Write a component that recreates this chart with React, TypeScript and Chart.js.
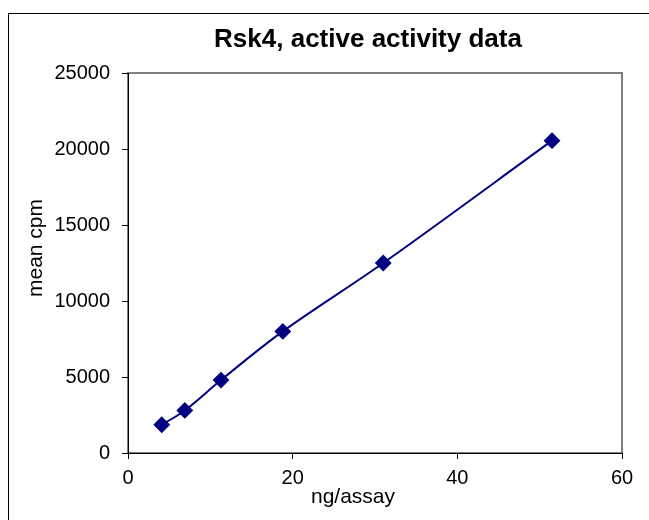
import React, { useEffect, useRef } from "react";
import { Chart, registerables } from "chart.js";

Chart.register(...registerables);

const chartTitle = "Rsk4, active activity data";
const xAxisTitle = "ng/assay";
const yAxisTitle = "mean cpm";
const ngPerAssay = [4.1, 6.9, 11.3, 18.8, 31.0, 51.5];
const meanCpm = [1860, 2800, 4800, 8000, 12500, 20550];
const xTickStep = 20;
const yTickStep = 5000;

const FONT = '"Liberation Sans", Arial, sans-serif';

const overlay = {
  id: "overlay",
  beforeDraw(chart: any) {
    const { ctx, chartArea } = chart;
    ctx.save();
    ctx.strokeStyle = "#808080";
    ctx.lineWidth = 2;
    ctx.strokeRect(chartArea.left, chartArea.top, chartArea.right - chartArea.left, chartArea.bottom - chartArea.top);
    ctx.restore();
  },
  afterDraw(chart: any) {
    const { ctx } = chart;
    ctx.save();
    ctx.fillStyle = "#000";
    ctx.textAlign = "center";
    ctx.textBaseline = "middle";
    ctx.font = `bold 26px ${FONT}`;
    ctx.fillText(chartTitle, 368, 40);
    ctx.font = `21px ${FONT}`;
    ctx.fillText(xAxisTitle, 353, 497);
    ctx.translate(36, 248);
    ctx.rotate(-Math.PI / 2);
    ctx.fillText(yAxisTitle, 0, 0);
    ctx.restore();
  },
};

export default function App() {
  const ref = useRef<HTMLCanvasElement | null>(null);
  useEffect(() => {
    if (!ref.current) return;
    Chart.defaults.font.family = FONT;
    const chart = new Chart(ref.current, {
      type: "scatter",
      data: {
        datasets: [
          {
            data: ngPerAssay.map((x, i) => ({ x, y: meanCpm[i] })),
            showLine: true,
            borderColor: "#000080",
            backgroundColor: "#000080",
            borderWidth: 2,
            pointStyle: "rectRot",
            pointRadius: 7,
            pointHoverRadius: 7,
            tension: 0.35,
          },
        ],
      },
      options: {
        animation: false,
        responsive: false,
        devicePixelRatio: 1,
        layout: { padding: { left: 0, right: 27, top: 73, bottom: 0 } },
        plugins: { legend: { display: false }, tooltip: { enabled: false }, title: { display: false } },
        scales: {
          x: {
            type: "linear",
            min: 0,
            max: 60,
            ticks: { stepSize: xTickStep, color: "#000", font: { size: 20 }, padding: 7, callback: (v: any) => String(v) },
            grid: { drawOnChartArea: false, tickLength: 6, color: "#000" },
            border: { color: "#000", width: 1 },
            afterFit: (s: any) => { s.height = 67; },
          },
          y: {
            type: "linear",
            min: 0,
            max: 25000,
            ticks: { stepSize: yTickStep, color: "#000", font: { size: 20 }, padding: 12, callback: (v: any) => String(v) },
            grid: { drawOnChartArea: false, tickLength: 6, color: "#000" },
            border: { color: "#000", width: 1 },
            afterFit: (s: any) => { s.width = 128; },
          },
        },
      },
      plugins: [overlay],
    });
    return () => chart.destroy();
  }, []);
  return (
    <div style={{ position: "absolute", left: 0, top: 0, width: 649, height: 520, overflow: "hidden", background: "#fff" }}>
      <div style={{ position: "absolute", left: 8, top: 13, width: 700, height: 600, border: "1px solid #000" }} />
      <canvas ref={ref} width={649} height={520} style={{ position: "absolute", left: 0, top: 0, width: 649, height: 520 }} />
    </div>
  );
}
